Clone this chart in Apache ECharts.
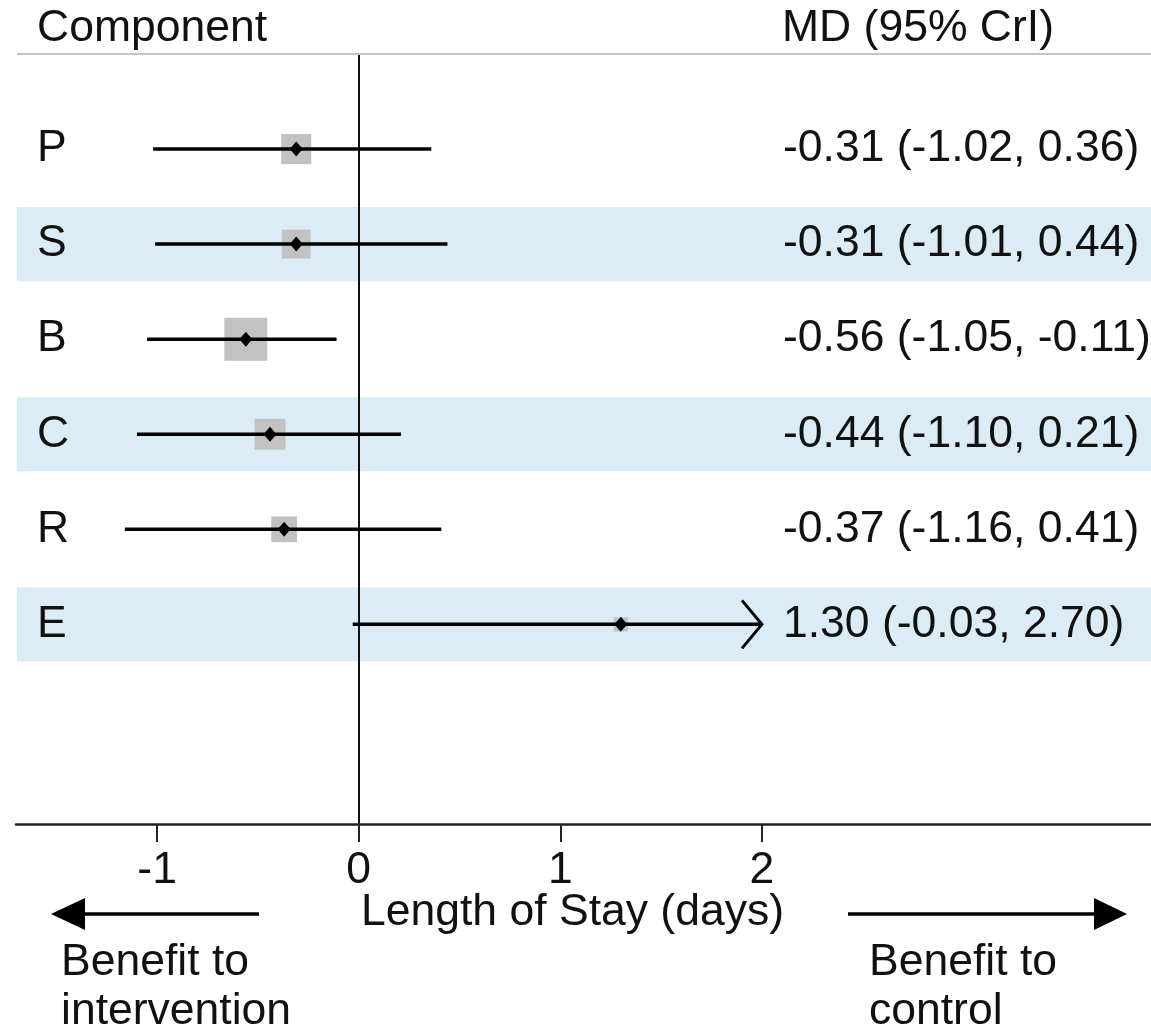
<!DOCTYPE html>
<html><head><meta charset="utf-8">
<script src="https://cdn.jsdelivr.net/npm/echarts@6/dist/echarts.min.js"></script>
<style>html,body{margin:0;padding:0;background:#fff}#c{width:1151px;height:1030px}</style>
</head><body><div id="c"></div>
<script>
// ---- data ----
const components = ['P', 'S', 'B', 'C', 'R', 'E'];
const md         = [-0.31, -0.31, -0.56, -0.44, -0.37, 1.30];
const lower      = [-1.02, -1.01, -1.05, -1.10, -1.16, -0.03];
const upper      = [0.36, 0.44, -0.11, 0.21, 0.41, 2.70];
const weight     = [0.70, 0.67, 1.00, 0.72, 0.60, 0.33];   // relative precision (box size)
const xTicks     = [-1, 0, 1, 2];
const shadedRows = ['S', 'C', 'E'];
const xTitle     = 'Length of Stay (days)';
const headerLeft = 'Component';
const headerRight = 'MD (95% CrI)';
const leftNote   = ['Benefit to', 'intervention'];
const rightNote  = ['Benefit to', 'control'];

// ---- style ----
const FONT = '"Liberation Sans", Arial, Helvetica, sans-serif';
const FS = 44.5;
const INK = '#111';
const X_CAP = 2;          // intervals beyond this are drawn with an arrow
const MAX_BOX = 43;
const LABEL_X = 37, EST_X = 783;

const chart = echarts.init(document.getElementById('c'), null, {renderer: 'canvas'});

function fmt(v) { return v.toFixed(2); }

function renderBand(params, api) {
  const cs = params.coordSys;
  const i = api.value(1);
  const y1 = api.coord([0, i - 0.39])[1];
  const y2 = api.coord([0, i + 0.39])[1];
  return {
    type: 'rect',
    shape: {x: cs.x + 1, y: Math.min(y1, y2), width: cs.width, height: Math.abs(y2 - y1)},
    style: {fill: '#dcecf7'}
  };
}

function renderRow(params, api) {
  const i = api.value(0), m = api.value(1), lo = api.value(2), hi = api.value(3), w = api.value(4);
  const idx = params.dataIndex;
  const pm = api.coord([m, i]);
  const pl = api.coord([lo, i]);
  const ph = api.coord([Math.min(hi, X_CAP), i]);
  const y = pm[1];
  const box = w * MAX_BOX;
  const ch = [];
  ch.push({type: 'rect', shape: {x: pm[0] - box / 2, y: y - box / 2, width: box, height: box},
           style: {fill: '#c2c2c2'}});
  ch.push({type: 'line', shape: {x1: pl[0], y1: y, x2: ph[0], y2: y},
           style: {stroke: '#000', lineWidth: 3.5}});
  if (hi > X_CAP) {
    ch.push({type: 'polyline', shape: {points: [[ph[0] - 20, y - 24], [ph[0], y], [ph[0] - 20, y + 24]]},
             style: {stroke: '#000', lineWidth: 3, fill: null}});
  }
  ch.push({type: 'polygon', shape: {points: [[pm[0], y - 7.5], [pm[0] + 6.5, y], [pm[0], y + 7.5], [pm[0] - 6.5, y]]},
           style: {fill: '#000'}});
  ch.push({type: 'text', style: {text: components[idx], x: LABEL_X, y: y, fill: INK,
           font: FS + 'px ' + FONT, align: 'left', verticalAlign: 'middle'}});
  ch.push({type: 'text', style: {text: fmt(m) + ' (' + fmt(lo) + ', ' + fmt(hi) + ')', x: EST_X, y: y,
           fill: INK, font: FS + 'px ' + FONT, align: 'left', verticalAlign: 'middle'}});
  return {type: 'group', children: ch};
}

function txt(t, x, y) {
  return {type: 'text', left: x, top: y - FS / 2, z: 10,
          style: {text: t, fill: INK, font: FS + 'px ' + FONT}};
}

const option = {
  backgroundColor: '#fff',
  animation: false,
  grid: {left: 16, right: 0, top: 54, bottom: 1030 - 824, containLabel: false},
  xAxis: {
    type: 'value', min: -1.7, max: 3.93, z: 3,
    axisLine: {onZero: false, lineStyle: {color: '#222', width: 2.5}},
    axisTick: {show: true, customValues: xTicks, length: 18, lineStyle: {color: '#222', width: 2}},
    axisLabel: {customValues: xTicks, margin: 24, color: INK, fontSize: FS, fontFamily: FONT},
    splitLine: {show: false}
  },
  yAxis: {
    type: 'value', min: -1, max: 7.1, inverse: true, z: 3,
    axisLine: {show: true, onZero: true, lineStyle: {color: INK, width: 2}},
    axisTick: {show: false}, axisLabel: {show: false}, splitLine: {show: false}
  },
  series: [
    {type: 'custom', z: 1, renderItem: renderBand, encode: {x: 0, y: 1},
     data: shadedRows.map(r => [0, components.indexOf(r)])},
    {type: 'custom', z: 4, renderItem: renderRow, encode: {x: [1, 2, 3], y: 0}, clip: false,
     data: components.map((c, i) => [i, md[i], lower[i], upper[i], weight[i]])}
  ],
  graphic: [
    {type: 'line', z: 10, shape: {x1: 17, y1: 54, x2: 1151, y2: 54}, style: {stroke: '#c4c4c4', lineWidth: 2}},
    txt(headerLeft, 37, 28),
    txt(headerRight, 782, 28),
    txt(xTitle, 361, 912),
    {type: 'line', z: 10, shape: {x1: 84, y1: 914, x2: 259, y2: 914}, style: {stroke: '#000', lineWidth: 3.5}},
    {type: 'polygon', z: 10, shape: {points: [[51, 914], [85, 898], [85, 930]]}, style: {fill: '#000'}},
    {type: 'line', z: 10, shape: {x1: 848, y1: 914, x2: 1095, y2: 914}, style: {stroke: '#000', lineWidth: 3.5}},
    {type: 'polygon', z: 10, shape: {points: [[1127, 914], [1094, 898], [1094, 930]]}, style: {fill: '#000'}},
    txt(leftNote[0], 61, 962),
    txt(leftNote[1], 61, 1011),
    txt(rightNote[0], 869, 962),
    txt(rightNote[1], 869, 1011)
  ]
};
chart.setOption(option);
</script>
</body></html>
